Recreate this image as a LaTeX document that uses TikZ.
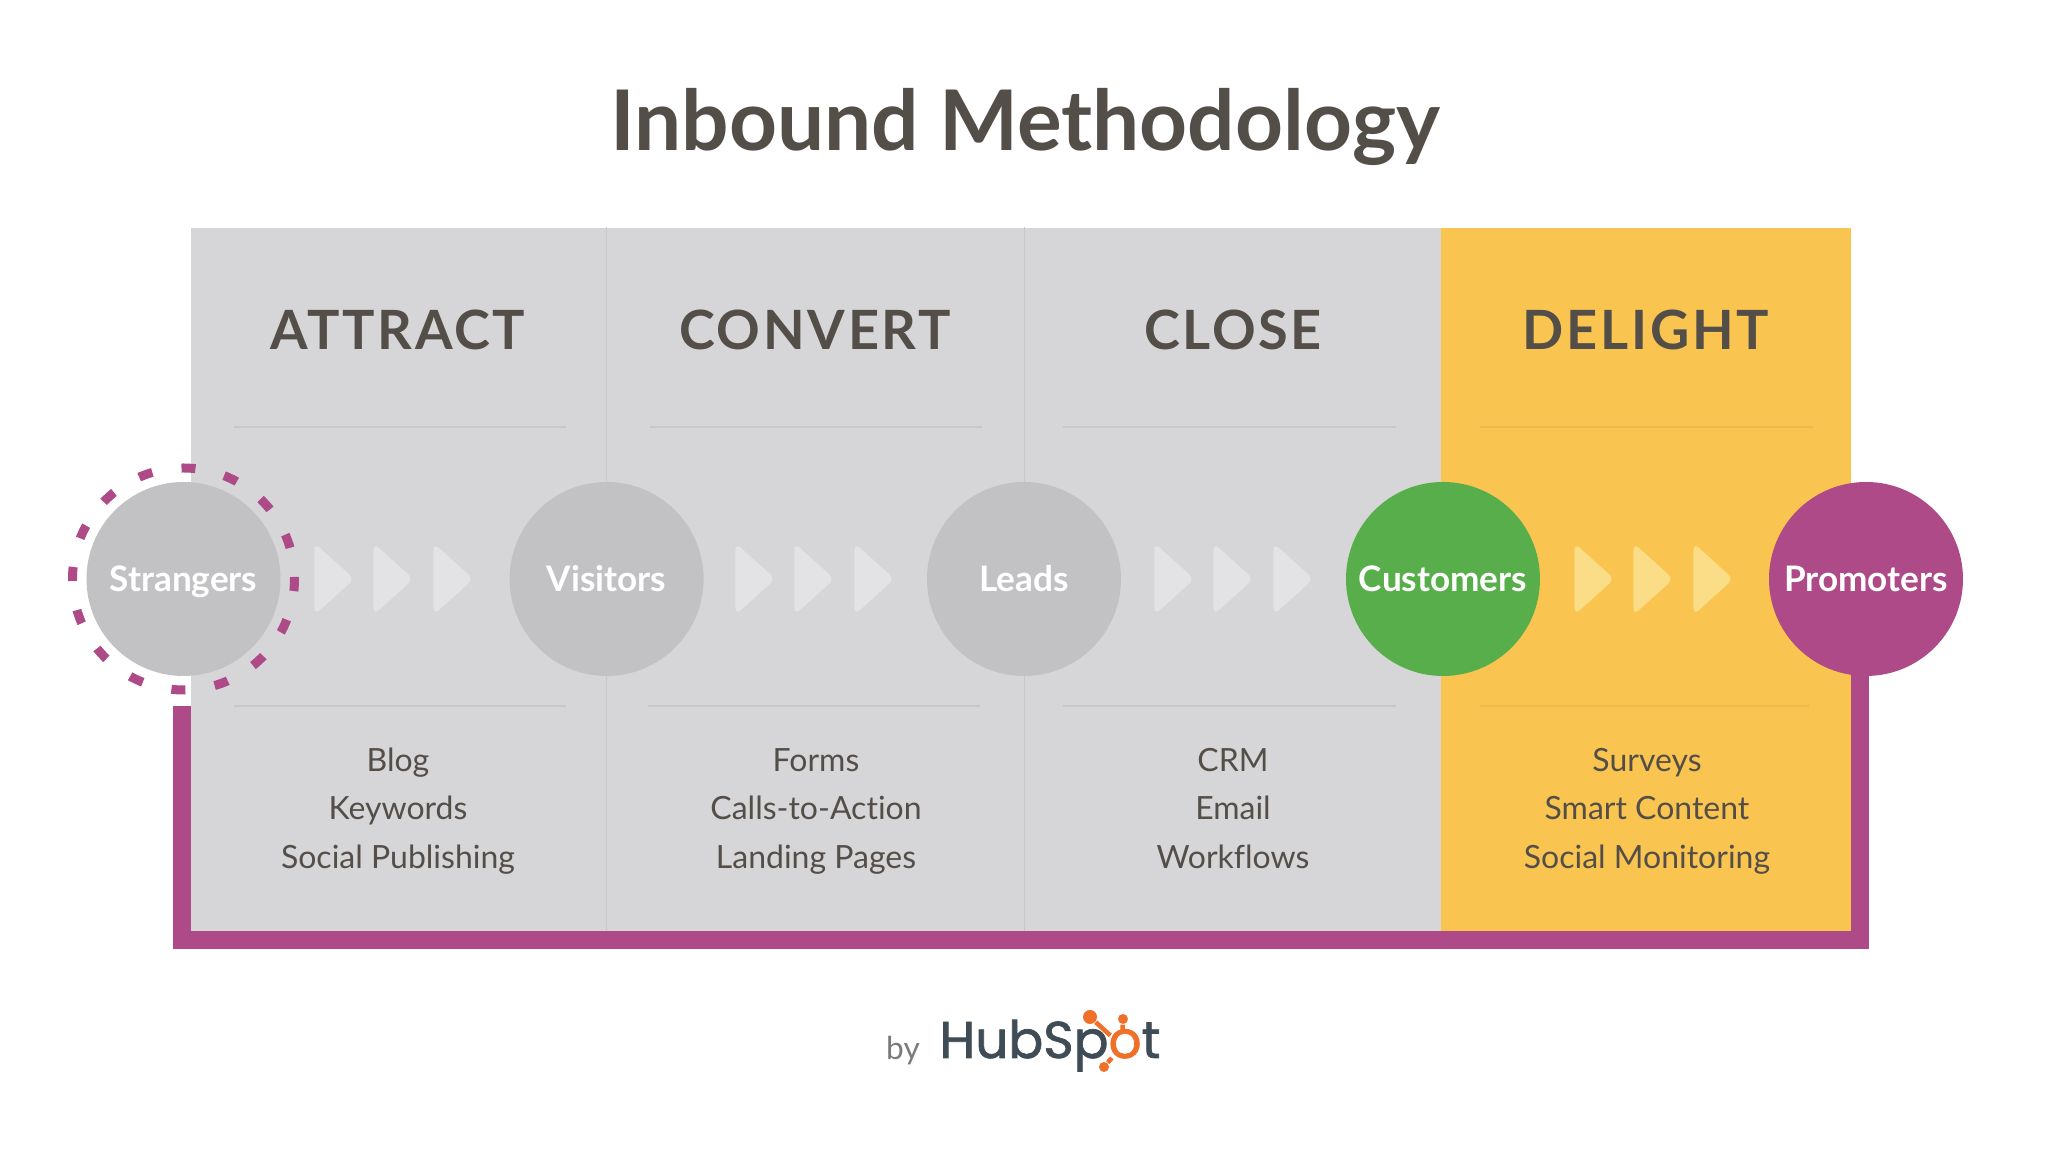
\documentclass[tikz,border=0pt]{standalone}
\usepackage{fontspec}
\setmainfont[Ligatures=NoCommon]{Lato}
\newfontfamily\headfont[LetterSpace=5]{Lato}
\newfontfamily\logofont[FakeBold=1.4]{Poppins}
\usepackage{xcolor}
\usepackage{tikz}
\usetikzlibrary{shapes.geometric}
\tikzstyle{panel} = [rectangle, fill=pgray, minimum height=7.04cm, inner sep=0pt]
\tikzstyle{divider} = [draw=pline, line width=0.35pt]
\tikzstyle{rule} = [draw=pline, line width=0.35pt]
\tikzstyle{yrule} = [draw=yline, line width=0.35pt]
\tikzstyle{stage} = [circle, minimum size=1.94cm, inner sep=0pt, text=white, text height=6.9pt, text depth=0pt, font=\fontsize{10}{12}\selectfont\bfseries]
\tikzstyle{chevron} = [isosceles triangle, isosceles triangle stretches, rounded corners=2pt, inner sep=0pt, minimum width=0.72cm, minimum height=0.40cm, fill=agray]
\tikzstyle{heading} = [anchor=base, text=ink, font=\headfont\fontsize{15.4}{18}\selectfont\bfseries]
\tikzstyle{item} = [anchor=base, text=ink, font=\fontsize{9.1}{11}\selectfont]
\tikzstyle{band} = [draw=bpurp, line width=5.1pt]
\tikzstyle{ring} = [draw=bpurp, line width=2.56pt, dash pattern=on 3.98pt off 8.42pt, dash phase=3.4pt]
\tikzstyle{spoke} = [draw=logoorange, line width=1.3pt]
\definecolor{bpurp}{HTML}{AE4A88}
\definecolor{bgreen}{HTML}{58AE4B}
\definecolor{byellow}{HTML}{F9C550}
\definecolor{pgray}{HTML}{D6D5D7}
\definecolor{cgray}{HTML}{C2C1C3}
\definecolor{agray}{HTML}{E3E3E5}
\definecolor{ayellow}{HTML}{FBDC87}
\definecolor{pline}{HTML}{C8C7C9}
\definecolor{yline}{HTML}{EDB949}
\definecolor{ink}{HTML}{544E49}
\definecolor{logoink}{HTML}{3F4C56}
\definecolor{logoorange}{HTML}{F0702A}
\definecolor{bytext}{HTML}{7A7A7A}
\begin{document}
\begin{tikzpicture}
    \useasboundingbox (0, 0) rectangle (20.48, 11.52);

    % title
    \node[text=ink, font=\fontsize{23.8}{28}\selectfont\bfseries] at (10.25, 10.25) (title) {Inbound Methodology};

    % panels
    \node[panel, minimum width=4.15cm] at (3.985, 5.72) (attract) {};
    \node[panel, minimum width=4.18cm] at (8.15, 5.72) (convert) {};
    \node[panel, minimum width=4.17cm] at (12.325, 5.72) (close) {};
    \node[panel, fill=byellow, minimum width=4.10cm] at (16.46, 5.72) (delight) {};
    \path[divider] (attract.north east) to (attract.south east);
    \path[divider] (convert.north east) to (convert.south east);

    % headings
    \node[heading] at (3.98, 8.02) (attracthead) {ATTRACT};
    \node[heading] at (8.15, 8.02) (converthead) {CONVERT};
    \node[heading] at (12.33, 8.02) (closehead) {CLOSE};
    \node[heading] at (16.46, 8.02) (delighthead) {DELIGHT};

    % rules
    \coordinate (r0a) at (2.34, 7.25);
    \coordinate (r0b) at (5.66, 7.25);
    \coordinate (r1a) at (6.50, 7.25);
    \coordinate (r1b) at (9.82, 7.25);
    \coordinate (r2a) at (10.63, 7.25);
    \coordinate (r2b) at (13.96, 7.25);
    \coordinate (r3a) at (14.80, 7.25);
    \coordinate (r3b) at (18.13, 7.25);
    \coordinate (s0a) at (2.34, 4.46);
    \coordinate (s0b) at (5.66, 4.46);
    \coordinate (s1a) at (6.48, 4.46);
    \coordinate (s1b) at (9.80, 4.46);
    \coordinate (s2a) at (10.63, 4.46);
    \coordinate (s2b) at (13.96, 4.46);
    \coordinate (s3a) at (14.80, 4.46);
    \coordinate (s3b) at (18.09, 4.46);
    \path[rule] (r0a) to (r0b);
    \path[rule] (r1a) to (r1b);
    \path[rule] (r2a) to (r2b);
    \path[yrule] (r3a) to (r3b);
    \path[rule] (s0a) to (s0b);
    \path[rule] (s1a) to (s1b);
    \path[rule] (s2a) to (s2b);
    \path[yrule] (s3a) to (s3b);

    % items
    \node[item] at (3.98, 3.80) (blog) {Blog};
    \node[item] at (3.98, 3.32) (keywords) {Keywords};
    \node[item] at (3.98, 2.83) (publishing) {Social Publishing};
    \node[item] at (8.16, 3.80) (forms) {Forms};
    \node[item] at (8.16, 3.32) (calls) {Calls-to-Action};
    \node[item] at (8.16, 2.83) (landing) {Landing Pages};
    \node[item] at (12.33, 3.80) (crm) {CRM};
    \node[item] at (12.33, 3.32) (email) {Email};
    \node[item] at (12.33, 2.83) (workflows) {Workflows};
    \node[item] at (16.47, 3.80) (surveys) {Surveys};
    \node[item] at (16.47, 3.32) (smart) {Smart Content};
    \node[item] at (16.47, 2.83) (monitoring) {Social Monitoring};

    % loop band
    \coordinate (bandstart) at (1.82, 4.46);
    \coordinate (bandcorner) at (18.60, 2.12);
    \coordinate (bandend) at (18.60, 5.73);
    \path[band] (bandstart) to (bandstart |- bandcorner) to (bandcorner) to (bandend);

    % stages
    \node[stage, fill=cgray] at (1.835, 5.73) (strangers) {Strangers};
    \node[stage, fill=cgray] at (6.066, 5.73) (visitors) {Visitors};
    \node[stage, fill=cgray] at (10.24, 5.73) (leads) {Leads};
    \node[stage, fill=bgreen] at (14.43, 5.73) (customers) {Customers};
    \node[stage, fill=bpurp] at (18.66, 5.73) (promoters) {Promoters};
    \path[ring] (strangers.center) circle (1.11);

    % chevrons
    \node[chevron] at (3.305, 5.73) (a00) {};
    \node[chevron] at (3.895, 5.73) (a01) {};
    \node[chevron] at (4.495, 5.73) (a02) {};
    \node[chevron] at (7.515, 5.73) (a10) {};
    \node[chevron] at (8.105, 5.73) (a11) {};
    \node[chevron] at (8.705, 5.73) (a12) {};
    \node[chevron] at (11.705, 5.73) (a20) {};
    \node[chevron] at (12.295, 5.73) (a21) {};
    \node[chevron] at (12.895, 5.73) (a22) {};
    \node[chevron, fill=ayellow] at (15.905, 5.73) (a30) {};
    \node[chevron, fill=ayellow] at (16.495, 5.73) (a31) {};
    \node[chevron, fill=ayellow] at (17.095, 5.73) (a32) {};

    % logo
    \node[anchor=base, text=bytext, font=\fontsize{9}{11}\selectfont] at (9.03, 0.92) (by) {by};
    \node[anchor=base, text=logoink, font=\logofont\fontsize{14.7}{17}\selectfont] at (10.50, 0.94) (logo) {HubSp\textcolor{logoorange}{o}t};
    \node[circle, minimum size=0.30cm, inner sep=0pt] at (11.22, 1.06) (hub) {};
    \node[circle, fill=logoorange, minimum size=0.14cm, inner sep=0pt] at (10.90, 1.35) (ball0) {};
    \node[circle, fill=logoorange, minimum size=0.10cm, inner sep=0pt] at (11.23, 1.33) (ball1) {};
    \node[circle, fill=logoorange, minimum size=0.10cm, inner sep=0pt] at (11.04, 0.85) (ball2) {};
    \path[spoke] (ball0) to (hub);
    \path[spoke] (ball1) to (hub);
    \path[spoke] (ball2) to (hub);
\end{tikzpicture}
\end{document}
